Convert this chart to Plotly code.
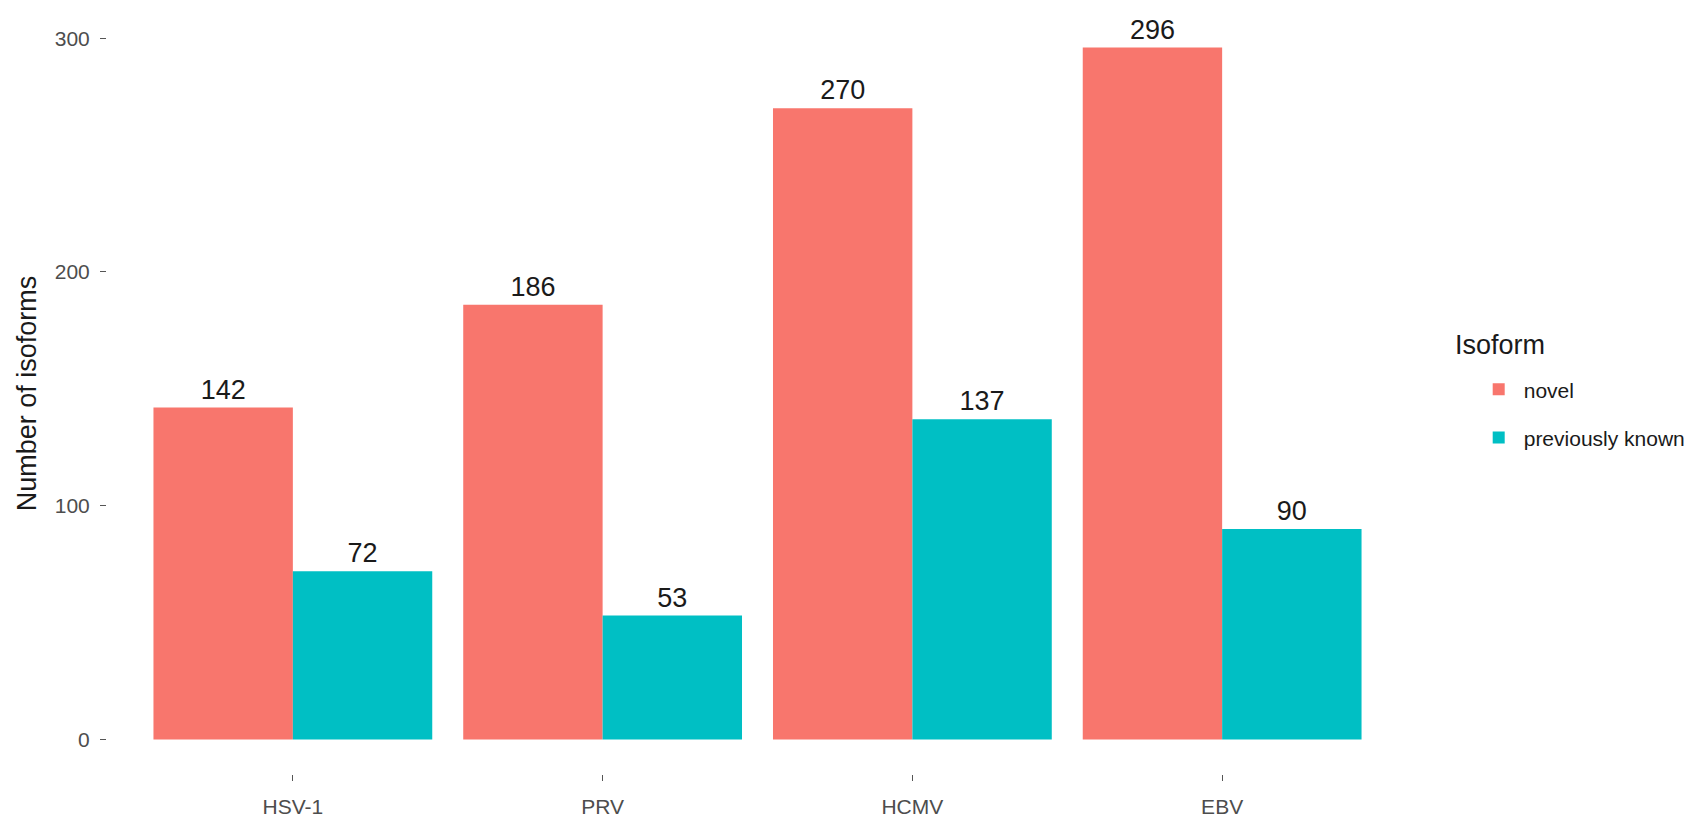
import plotly.graph_objects as go

categories = ["HSV-1", "PRV", "HCMV", "EBV"]
novel = [142, 186, 270, 296]
previously_known = [72, 53, 137, 90]
series_names = ["novel", "previously known"]
y_ticks = [0, 100, 200, 300]
legend_title = "Isoform"

colors = ["#F8766D", "#00BFC4"]
FONT = "Liberation Sans, Arial, sans-serif"

fig = go.Figure()
for name, vals, col in zip(series_names, [novel, previously_known], colors):
    fig.add_trace(go.Bar(
        x=categories, y=vals, name=name, legendgroup=name,
        marker=dict(color=col, line=dict(width=0)),
        text=[str(v) for v in vals], textposition="outside",
        textfont=dict(size=27, color="#1a1a1a", family=FONT),
        cliponaxis=False,
    ))

fig.update_layout(
    width=1700, height=826,
    barmode="group", bargap=0.1, bargroupgap=0,
    plot_bgcolor="white", paper_bgcolor="white",
    margin=dict(l=99, r=300, t=5, b=60),
    font=dict(family=FONT),
    legend=dict(
        font=dict(size=21, color="#1a1a1a"),
        x=1.0505, y=0.532, xanchor="left", yanchor="top",
        itemwidth=40, tracegroupgap=18,
    ),
    annotations=[dict(
        text=legend_title, xref="paper", yref="paper",
        x=1.0346, y=0.564, xanchor="left", yanchor="middle",
        showarrow=False, font=dict(size=27, color="#1a1a1a"),
    )],
)
fig.update_xaxes(
    range=[-0.6, 3.6], showgrid=False, zeroline=False, showline=False,
    ticks="outside", ticklen=6, tickcolor="#555555", tickwidth=1,
    tickfont=dict(size=21, color="#4d4d4d"), ticklabelstandoff=8,
)
fig.update_yaxes(
    range=[-14.8, 310.8], showgrid=False, zeroline=False, showline=False,
    tickvals=y_ticks, ticks="outside", ticklen=6, tickcolor="#555555", tickwidth=1,
    tickfont=dict(size=21, color="#4d4d4d"), ticklabelstandoff=6,
    title=dict(text="Number of isoforms", font=dict(size=27, color="#1a1a1a"), standoff=10),
)

fig.write_html("out.html")
